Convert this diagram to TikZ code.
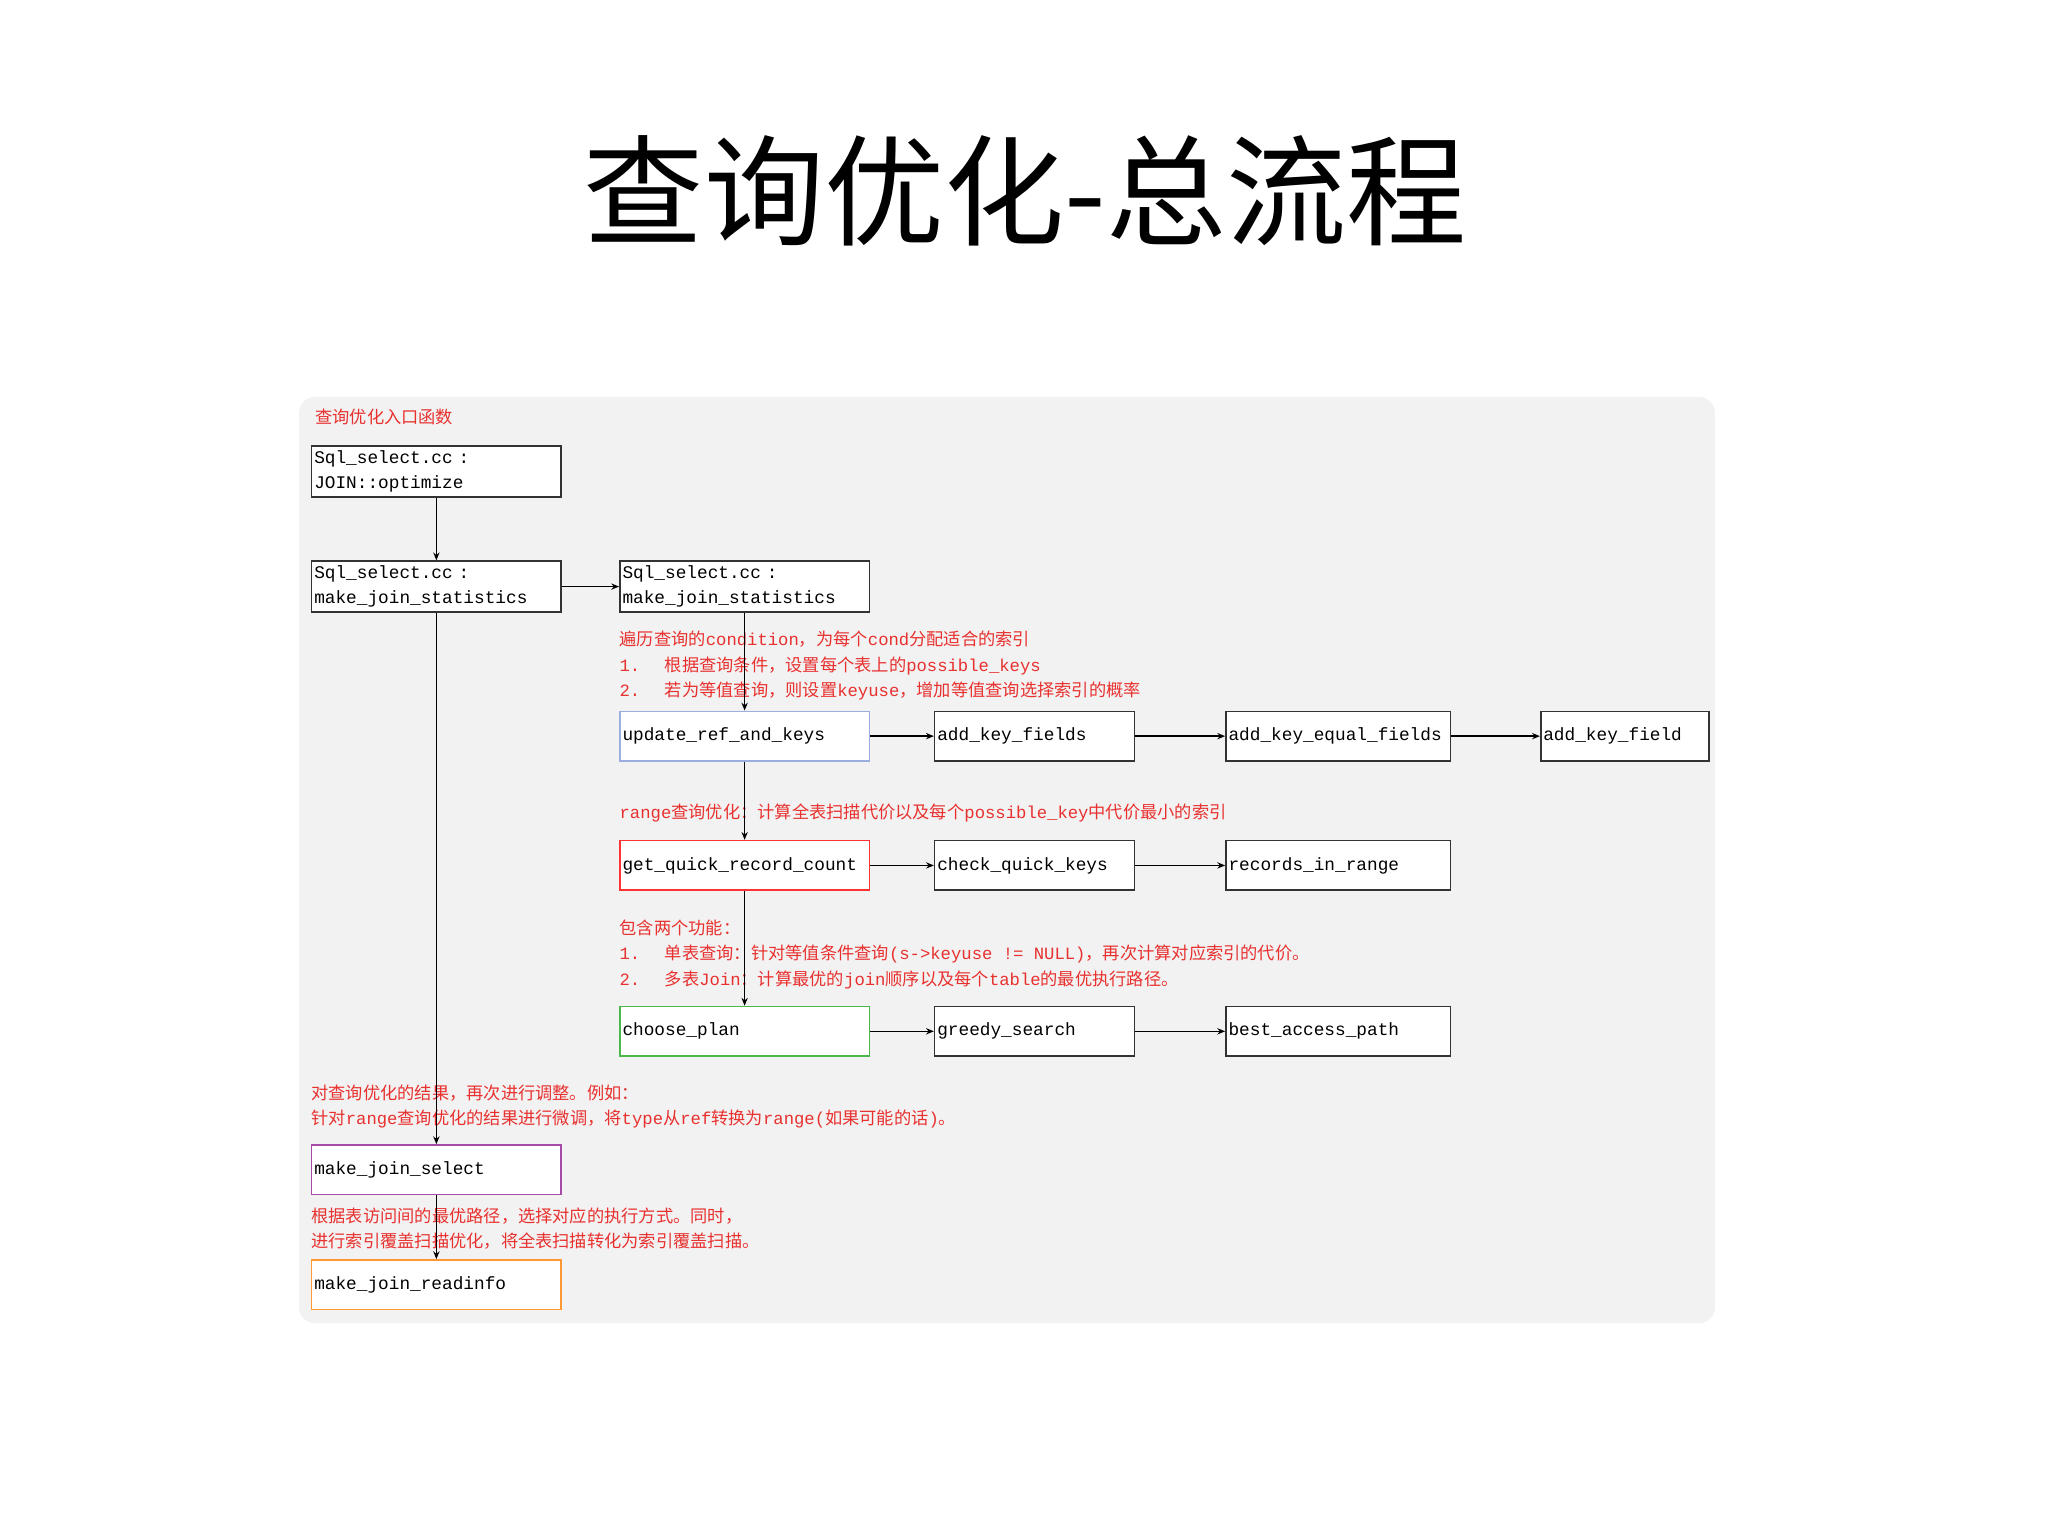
\documentclass[tikz,border=0pt]{standalone}
\usepackage{fontspec}
\setmonofont{Liberation Mono}
\newfontfamily\cjk{Noto Sans CJK SC}
\usetikzlibrary{arrows.meta}
\definecolor{redtxt}{HTML}{E8312F}
\newcommand{\lt}[1]{{\ttfamily #1}}
\tikzset{
 bx/.style={draw=black!80, line width=0.6pt, fill=white, anchor=north west, inner sep=1pt, align=left, minimum height=19pt, font=\ttfamily\fontsize{6.8}{9.7}\selectfont},
 note/.style={anchor=north west, inner sep=0pt, align=left, text=redtxt, font=\cjk\fontsize{6.6}{9.7}\selectfont},
 arr/.style={-{Stealth[length=3pt,width=2.4pt]}, line width=0.5pt, black}
}
\begin{document}
\begin{tikzpicture}[x=0.5pt,y=-0.5pt]
\useasboundingbox[fill=white] (0,0) rectangle (1568,1176);
\node[font=\cjk\fontsize{46}{50}\selectfont] (title) at (785,146) {查询优化-总流程};
\fill[black!5, rounded corners=6pt] (229,304) rectangle (1313,1013);
\node[note] (lab) at (241,313) {查询优化入口函数};
\node[bx, text width=93.5pt, minimum height=19.5pt] (b1) at (238,341) {Sql\_select.cc :\\JOIN::optimize};
\node[bx, text width=93.5pt, minimum height=19.5pt] (b2) at (238,429) {Sql\_select.cc :\\make\_join\_statistics};
\node[bx, text width=93.5pt, minimum height=19.5pt] (b3) at (474,429) {Sql\_select.cc :\\make\_join\_statistics};
\node[note] (n1) at (474,483) {遍历查询的\lt{condition}，为每个\lt{cond}分配适合的索引\\\lt{1.\ \ }\ 根据查询条件，设置每个表上的\lt{possible\_keys}\\\lt{2.\ \ }\ 若为等值查询，则设置\lt{keyuse}，增加等值查询选择索引的概率};
\node[bx, draw=cyan!40!blue!40, text width=93.5pt] (upd) at (474,544) {update\_ref\_and\_keys};
\node[bx, text width=74.5pt] (akf) at (715,544) {add\_key\_fields};
\node[bx, text width=84pt] (akef) at (938,544) {add\_key\_equal\_fields};
\node[bx, text width=62.5pt] (akf1) at (1179,544) {add\_key\_field};
\node[note] (n2) at (474,615) {\lt{range}查询优化：计算全表扫描代价以及每个\lt{possible\_key}中代价最小的索引};
\node[bx, draw=red!80, text width=93.5pt] (gq) at (474,643) {get\_quick\_record\_count};
\node[bx, text width=74.5pt] (cqk) at (715,643) {check\_quick\_keys};
\node[bx, text width=84pt] (rir) at (938,643) {records\_in\_range};
\node[note] (n3) at (474,704) {包含两个功能：\\\lt{1.\ \ }\ 单表查询：针对等值条件查询\lt{(s->keyuse != NULL)}，再次计算对应索引的代价。\\\lt{2.\ \ }\ 多表\lt{Join}：计算最优的\lt{join}顺序以及每个\lt{table}的最优执行路径。};
\node[bx, draw=green!60!black!70, text width=93.5pt] (cp) at (474,770) {choose\_plan};
\node[bx, text width=74.5pt] (gs) at (715,770) {greedy\_search};
\node[bx, text width=84pt] (bap) at (938,770) {best\_access\_path};
\node[note] (n4) at (238,830) {对查询优化的结果，再次进行调整。例如：\\针对\lt{range}查询优化的结果进行微调，将\lt{type}从\lt{ref}转换为\lt{range(}如果可能的话\lt{)}。};
\node[bx, draw=violet!70, text width=93.5pt] (mjs) at (238,876) {make\_join\_select};
\node[note] (n5) at (238,924) {根据表访问间的最优路径，选择对应的执行方式。同时，\\进行索引覆盖扫描优化，将全表扫描转化为索引覆盖扫描。};
\node[bx, draw=orange!80, text width=93.5pt] (mjr) at (238,964) {make\_join\_readinfo};
\draw[arr] (b1.south) -- (b2.north);
\draw[arr] (b2.east) -- (b3.west);
\draw[arr] (b2.south) -- (mjs.north);
\draw[arr] (mjs.south) -- (mjr.north);
\draw[arr] (b3.south) -- (upd.north);
\draw[arr] (upd.south) -- (gq.north);
\draw[arr] (gq.south) -- (cp.north);
\draw[arr] (upd.east) -- (akf.west);
\draw[arr] (akf.east) -- (akef.west);
\draw[arr] (akef.east) -- (akf1.west);
\draw[arr] (gq.east) -- (cqk.west);
\draw[arr] (cqk.east) -- (rir.west);
\draw[arr] (cp.east) -- (gs.west);
\draw[arr] (gs.east) -- (bap.west);
\end{tikzpicture}
\end{document}
